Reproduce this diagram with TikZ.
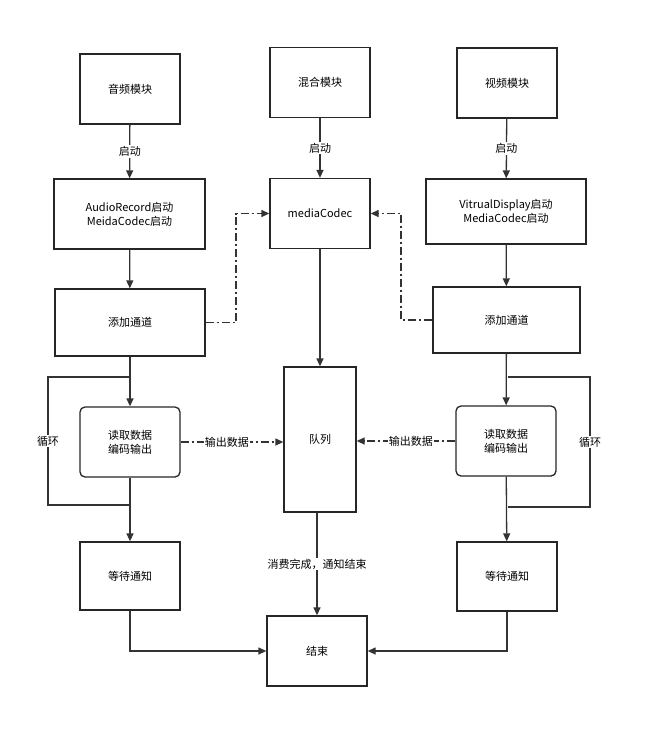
\documentclass[tikz,border=0pt]{standalone}
\usepackage{fontspec}
\setmainfont{Noto Sans CJK SC}
\usetikzlibrary{arrows.meta}
\begin{document}
\begin{tikzpicture}[x=1pt,y=-1pt,
  box/.style={draw=black!85,line width=1.3pt,minimum width=100pt,minimum height=70pt,align=center,font=\fontsize{11}{14}\selectfont,fill=white},
  arr/.style={draw=black!80,line width=1.3pt,-{Triangle[length=8pt,width=7pt]}},
  ln/.style={draw=black!80,line width=1.3pt},
  dd/.style={draw=black!80,line width=1.3pt,dash pattern=on 8pt off 3pt on 2pt off 3pt},
  lab/.style={fill=white,inner sep=1pt,font=\fontsize{11}{14}\selectfont}]
\useasboundingbox (0,0) rectangle (653,748);
\node[box] (a1) at (130,89) {音频模块};
\node[box] (m1) at (320,82.5) {混合模块};
\node[box] (v1) at (507,83) {视频模块};
\node[box,minimum width=151pt] (a2) at (129.5,214) {AudioRecord启动\\MeidaCodec启动};
\node[box] (m2) at (320,213.5) {mediaCodec};
\node[box,minimum width=160pt,minimum height=65pt] (v2) at (506,211.5) {VitrualDisplay启动\\MediaCodec启动};
\node[box,minimum width=150pt,minimum height=67pt] (a3) at (130,322.5) {添加通道};
\node[box,minimum width=147pt,minimum height=66pt] (v3) at (506.5,320) {添加通道};
\node[box,rounded corners=5pt] (a4) at (130,442) {读取数据\\编码输出};
\node[box,minimum width=72pt,minimum height=145pt] (q) at (320,439.5) {队列};
\node[box,rounded corners=5pt] (v4) at (506,441) {读取数据\\编码输出};
\node[box,minimum height=68pt] (a5) at (130,576) {等待通知};
\node[box,minimum height=69pt] (v5) at (507,576.5) {等待通知};
\node[box] (e) at (317,651) {结束};
\draw[arr] (a1) -- node[lab]{启动} (a2);
\draw[arr] (m1) -- node[lab]{启动} (m2);
\draw[arr] (v1) -- node[lab]{启动} (v2);
\draw[arr] (a2) -- (a3);
\draw[arr] (v2) -- (v3);
\draw[arr] (a3) -- (a4);
\draw[arr] (v3) -- (v4);
\draw[arr] (a4) -- (a5);
\draw[arr] (v4) -- (v5);
\draw[arr] (m2) -- (q);
\coordinate (l1) at (130,377); \coordinate (l2) at (130,505);
\draw[ln] (l1) -- (48,377) -- node[lab]{循环} (48,505) -- (l2);
\coordinate (r1) at (508,377); \coordinate (r2) at (508,507);
\draw[ln] (r1) -- (590,377) -- node[lab]{循环} (590,507) -- (r2);
\draw[dd,-{Triangle[length=8pt,width=7pt]}] (a3.east) -- (236,322.5) -- (236,213.5) -- (m2.west);
\draw[dd,-{Triangle[length=8pt,width=7pt]}] (v3.west) -- (401,320) -- (401,213.5) -- (m2.east);
\draw[dd,-{Triangle[length=8pt,width=7pt]}] (a4.east) -- node[lab,pos=0.45]{输出数据} (q.west|-a4.east);
\draw[dd,-{Triangle[length=8pt,width=7pt]}] (v4.west) -- node[lab,pos=0.45]{输出数据} (q.east|-v4.west);
\draw[arr] (q.south-|e) -- node[lab,pos=0.5]{消费完成，通知结束} (e.north);
\draw[arr] (a5.south) |- (e.west);
\draw[arr] (v5.south) |- (e.east);
\end{tikzpicture}
\end{document}
